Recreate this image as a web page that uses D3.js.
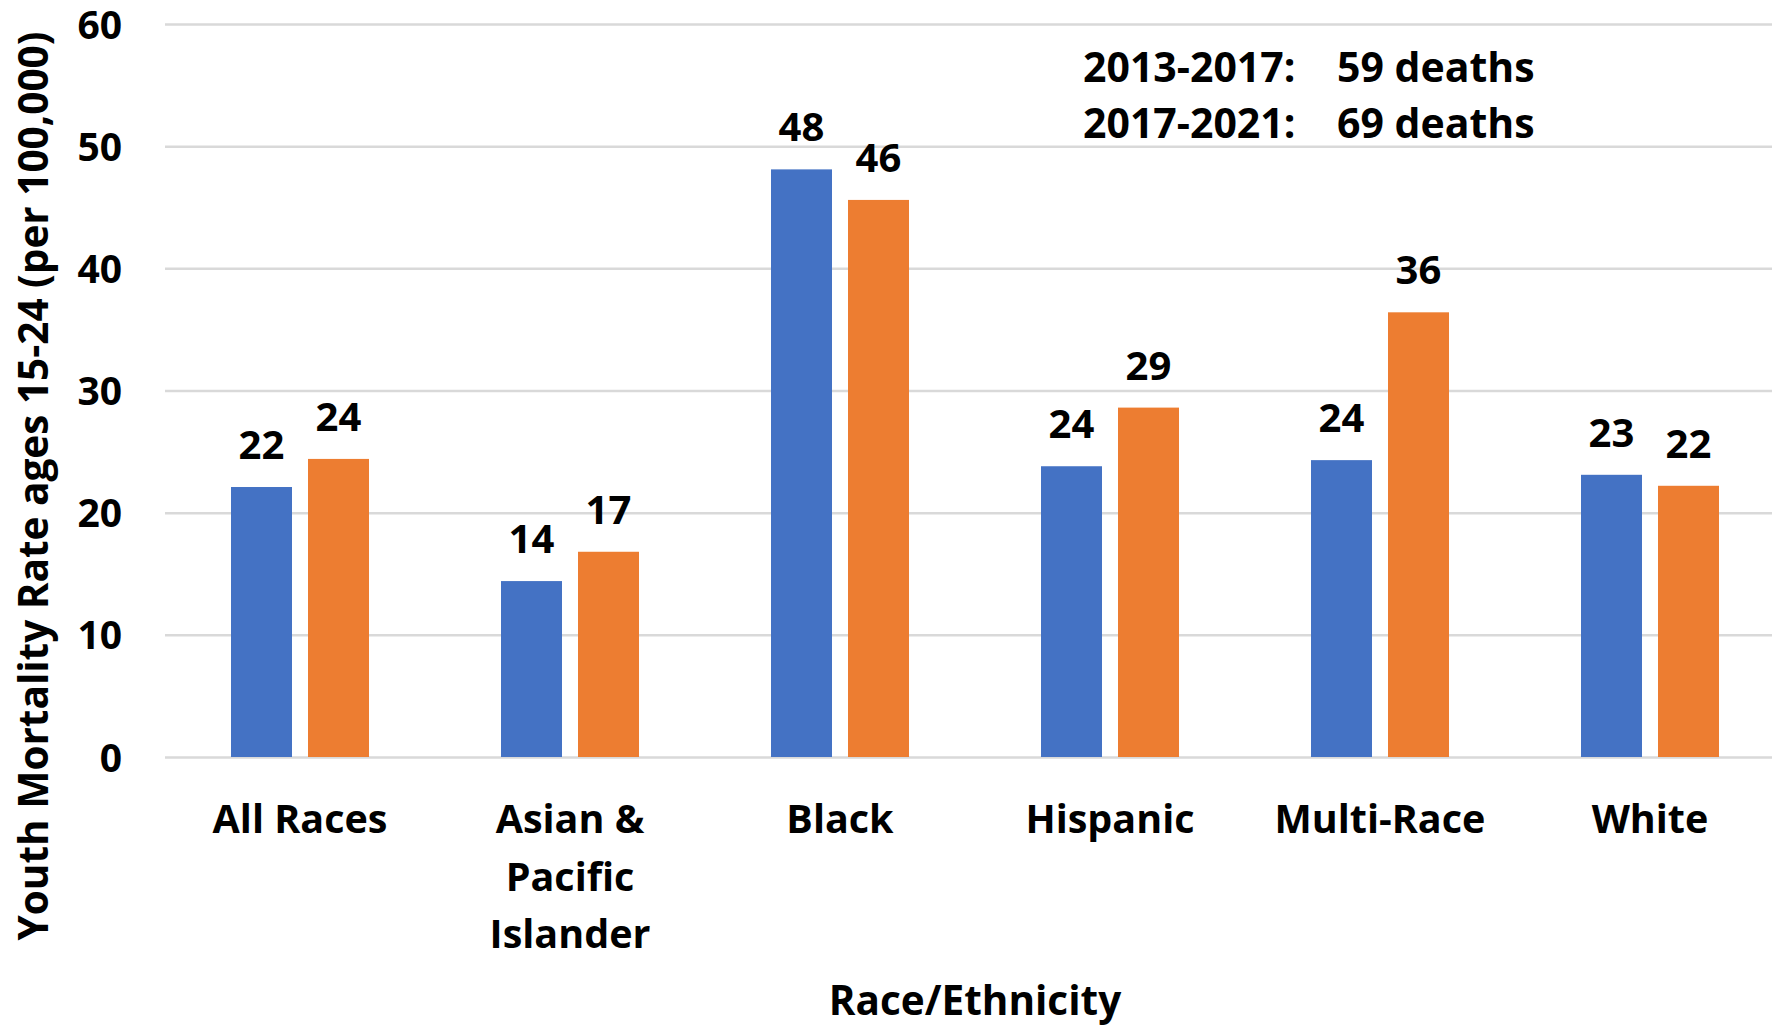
<!DOCTYPE html>
<html>
<head>
<meta charset="utf-8">
<script src="https://cdn.jsdelivr.net/npm/d3@7"></script>
<style>
  html, body { margin: 0; padding: 0; background: #fff; }
  svg text { font-family: "Open Sans", "Noto Sans", sans-serif; font-weight: 700; fill: #000; }
</style>
</head>
<body>
<svg id="chart" width="1772" height="1027"></svg>
<script>
const categories = [["All Races"], ["Asian &", "Pacific", "Islander"], ["Black"], ["Hispanic"], ["Multi-Race"], ["White"]];
const seriesNames = ["2013-2017", "2017-2021"];
const values2013_2017 = [22.1, 14.4, 48.1, 23.8, 24.3, 23.1];
const values2017_2021 = [24.4, 16.8, 45.6, 28.6, 36.4, 22.2];
const yTicks = [0, 10, 20, 30, 40, 50, 60];
const notePeriods = ["2013-2017:", "2017-2021:"];
const noteDeaths = ["59 deaths", "69 deaths"];
const yTitle = "Youth Mortality Rate ages 15-24 (per 100,000)";
const xTitle = "Race/Ethnicity";
const colors = ["#4472C4", "#ED7D31"];

const svg = d3.select("#chart");
const plotLeft = 165, plotRight = 1785, plotTop = 24, plotBottom = 757;

const catKeys = categories.map(c => c.join(" "));
const x0 = d3.scaleBand().domain(catKeys).range([plotLeft, plotRight]).paddingInner(0.4889).paddingOuter(0.24445);
const x1 = d3.scaleBand().domain(seriesNames).range([0, x0.bandwidth()]).paddingInner(0.2078).paddingOuter(0);
const y = d3.scaleLinear().domain([0, 60]).range([plotBottom, plotTop]);

// gridlines
const grid = svg.append("g").attr("transform", `translate(${plotLeft},0)`)
  .call(d3.axisLeft(y).tickValues(yTicks).tickSize(-(plotRight - plotLeft)).tickFormat(""));
grid.select(".domain").remove();
grid.selectAll(".tick line").attr("stroke", "#D9D9D9").attr("stroke-width", 2.5);

// y tick labels
const yAxis = svg.append("g").attr("transform", `translate(122,0)`)
  .call(d3.axisLeft(y).tickValues(yTicks).tickSize(0).tickPadding(0));
yAxis.select(".domain").remove();
yAxis.selectAll(".tick text").attr("font-size", 39).attr("fill", "#000")
  .attr("font-family", "'Open Sans', sans-serif").attr("font-weight", 700).attr("dy", "0.36em");

// bars
const rows = catKeys.map((k, i) => ({ key: k, vals: [values2013_2017[i], values2017_2021[i]] }));
const groups = svg.append("g").selectAll("g").data(rows).join("g")
  .attr("transform", d => `translate(${x0(d.key)},0)`);
groups.selectAll("rect").data(d => d.vals.map((v, j) => ({ s: seriesNames[j], v, j }))).join("rect")
  .attr("x", d => x1(d.s)).attr("width", x1.bandwidth())
  .attr("y", d => y(d.v)).attr("height", d => y(0) - y(d.v))
  .attr("fill", d => colors[d.j]);
groups.selectAll("text.val").data(d => d.vals.map((v, j) => ({ s: seriesNames[j], v, j }))).join("text")
  .attr("class", "val")
  .attr("x", d => x1(d.s) + x1.bandwidth() / 2)
  .attr("y", d => y(d.v) - 28)
  .attr("text-anchor", "middle").attr("font-size", 40)
  .text(d => Math.round(d.v));

// category labels
const catG = svg.append("g");
categories.forEach((lines, i) => {
  const cx = x0(catKeys[i]) + x0.bandwidth() / 2;
  const t = catG.append("text").attr("text-anchor", "middle").attr("font-size", 39.5)
    .attr("x", cx).attr("y", 833);
  lines.forEach((ln, k) => {
    t.append("tspan").attr("x", cx).attr("y", 833 + k * 57.5).text(ln);
  });
});

// axis titles
svg.append("text").attr("text-anchor", "middle").attr("font-size", 40.5)
  .attr("x", (plotLeft + plotRight) / 2).attr("y", 1015).text(xTitle);
svg.append("text").attr("text-anchor", "middle").attr("font-size", 40.5)
  .attr("transform", "translate(48,486) rotate(-90)").text(yTitle);

// annotation
const note = svg.append("g");
notePeriods.forEach((p, i) => {
  note.append("text").attr("x", 1083).attr("y", 82 + i * 56).attr("font-size", 41).text(p);
  note.append("text").attr("x", 1337).attr("y", 82 + i * 56).attr("font-size", 41).text(noteDeaths[i]);
});
</script>
</body>
</html>
